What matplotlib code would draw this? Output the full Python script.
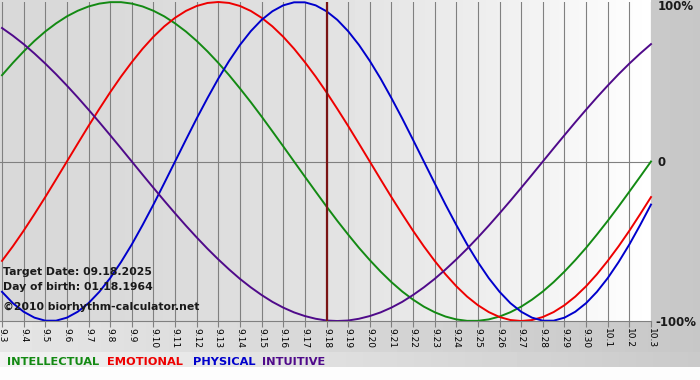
import numpy as np
import matplotlib
matplotlib.use('Agg')
import matplotlib.pyplot as plt

# dates on the x axis (month.day)
dias = ['9.3', '9.4', '9.5', '9.6', '9.7', '9.8', '9.9', '9.10', '9.11', '9.12',
        '9.13', '9.14', '9.15', '9.16', '9.17', '9.18', '9.19', '9.20', '9.21',
        '9.22', '9.23', '9.24', '9.25', '9.26', '9.27', '9.28', '9.29', '9.30',
        '10.1', '10.2', '10.3']
dia_alvo = '9.18'

# values every half day (9.3, 9.3½, 9.4, ...), -1 .. 1
physical = [-0.817, -0.888, -0.942, -0.979, -0.998, -0.998, -0.979, -0.942, -0.888, -0.817,
            -0.731, -0.631, -0.520, -0.398, -0.270, -0.136, 0.000, 0.136, 0.270, 0.398,
            0.520, 0.631, 0.731, 0.817, 0.888, 0.942, 0.979, 0.998, 0.998, 0.979,
            0.942, 0.888, 0.817, 0.731, 0.631, 0.520, 0.398, 0.270, 0.136, 0.000,
            -0.136, -0.270, -0.398, -0.520, -0.631, -0.731, -0.817, -0.888, -0.942, -0.979,
            -0.998, -0.998, -0.979, -0.942, -0.888, -0.817, -0.731, -0.631, -0.520, -0.398,
            -0.270]
emotional = [-0.623, -0.532, -0.434, -0.330, -0.223, -0.112, 0.000, 0.112, 0.223, 0.330,
             0.434, 0.532, 0.623, 0.707, 0.782, 0.847, 0.901, 0.944, 0.975, 0.994,
             1.000, 0.994, 0.975, 0.944, 0.901, 0.847, 0.782, 0.707, 0.623, 0.532,
             0.434, 0.330, 0.223, 0.112, 0.000, -0.112, -0.223, -0.330, -0.434, -0.532,
             -0.623, -0.707, -0.782, -0.847, -0.901, -0.944, -0.975, -0.994, -1.000, -0.994,
             -0.975, -0.944, -0.901, -0.847, -0.782, -0.707, -0.623, -0.532, -0.434, -0.330,
             -0.223]
intellectual = [0.541, 0.618, 0.690, 0.756, 0.815, 0.866, 0.910, 0.945, 0.972, 0.990,
                0.999, 0.999, 0.990, 0.972, 0.945, 0.910, 0.866, 0.815, 0.756, 0.690,
                0.618, 0.541, 0.458, 0.372, 0.282, 0.189, 0.095, 0.000, -0.095, -0.189,
                -0.282, -0.372, -0.458, -0.541, -0.618, -0.690, -0.756, -0.815, -0.866, -0.910,
                -0.945, -0.972, -0.990, -0.999, -0.999, -0.990, -0.972, -0.945, -0.910, -0.866,
                -0.815, -0.756, -0.690, -0.618, -0.541, -0.458, -0.372, -0.282, -0.189, -0.095,
                0.000]
intuitive = [0.837, 0.789, 0.736, 0.677, 0.614, 0.547, 0.476, 0.402, 0.325, 0.246,
             0.165, 0.083, 0.000, -0.083, -0.165, -0.246, -0.325, -0.402, -0.476, -0.547,
             -0.614, -0.677, -0.736, -0.789, -0.837, -0.880, -0.916, -0.946, -0.969, -0.986,
             -0.997, -1.000, -0.997, -0.986, -0.969, -0.946, -0.916, -0.880, -0.837, -0.789,
             -0.736, -0.677, -0.614, -0.547, -0.476, -0.402, -0.325, -0.246, -0.165, -0.083,
             0.000, 0.083, 0.165, 0.246, 0.325, 0.402, 0.476, 0.547, 0.614, 0.677,
             0.736]

verde = '#138a13'
vermelho = '#ee0000'
azul = '#0000cc'
roxo = '#4f0a8a'

fig = plt.figure(figsize=(7, 3.8), dpi=100)

# background (gray panels + gradient plot area)
yy, xx = np.mgrid[0:380, 0:700]
fundo = 0.78 + 0.12 * (1 - xx / 700.0)
area = (xx < 651) & (yy < 322)
fundo[area] = 0.85 + 0.15 * (xx[area] / 650.0) ** 2
faixa = (yy >= 352) & (yy < 367)
fundo[faixa] = 0.95 - 0.16 * xx[faixa] / 700.0
fundo[yy >= 367] = 0.99
ax_bg = fig.add_axes([0, 0, 1, 1], zorder=0)
ax_bg.imshow(fundo, cmap='gray', vmin=0, vmax=1, aspect='auto',
             extent=(0, 700, 380, 0), interpolation='bilinear')
ax_bg.axis('off')

ax = fig.add_axes([0, 59 / 380, 651 / 700, 319 / 380], zorder=1)
ax.patch.set_alpha(0)
x_dias = np.arange(len(dias))
x = np.arange(len(physical)) * 0.5
ax.set_xlim(-2 / 21.63, len(dias) - 1)
ax.set_ylim(-1, 1)

ax.set_xticks(x_dias)
ax.set_xticklabels(dias, rotation=270, fontsize=6.5)
ax.tick_params(axis='x', length=4, color='#808080', pad=1)
ax.set_yticks([])
ax.grid(axis='x', color='#808080', lw=0.8)
ax.axhline(0, color='#808080', lw=0.8)
for s in ['top', 'left', 'right']:
    ax.spines[s].set_visible(False)
ax.spines['bottom'].set_color('#808080')

ax.plot(x, intellectual, color=verde, lw=1.4, clip_on=False)
ax.plot(x, emotional, color=vermelho, lw=1.4, clip_on=False)
ax.plot(x, physical, color=azul, lw=1.4, clip_on=False)
ax.plot(x, intuitive, color=roxo, lw=1.4, clip_on=False)
ax.axvline(dias.index(dia_alvo), color='#7a1414', lw=1.6)

# right side labels
fig.text(658 / 700, 1 - 7 / 380, '100%', fontsize=8.5, fontweight='bold', va='center', color='#1a1a1a')
fig.text(658 / 700, 1 - 162 / 380, '0', fontsize=8.5, fontweight='bold', va='center', color='#1a1a1a')
fig.text(655 / 700, 1 - 322 / 380, '-100%', fontsize=8.5, fontweight='bold', va='center', color='#1a1a1a')

# info text
fig.text(3 / 700, 1 - 272 / 380, 'Target Date: 09.18.2025', fontsize=7.8, fontweight='bold', va='center', color='#1a1a1a')
fig.text(3 / 700, 1 - 287 / 380, 'Day of birth: 01.18.1964', fontsize=7.8, fontweight='bold', va='center', color='#1a1a1a')
fig.text(3 / 700, 1 - 307 / 380, '\u00a92010 biorhythm-calculator.net', fontsize=7.8, fontweight='bold', va='center', color='#1a1a1a')

# legend
legenda = [('INTELLECTUAL', verde, 7), ('EMOTIONAL', vermelho, 107),
           ('PHYSICAL', azul, 193), ('INTUITIVE', roxo, 262)]
for nome, cor, px in legenda:
    fig.text(px / 700, 1 - 362 / 380, nome, fontsize=8.2, fontweight='bold', va='center', color=cor)

fig.savefig('out.png', dpi=100)
